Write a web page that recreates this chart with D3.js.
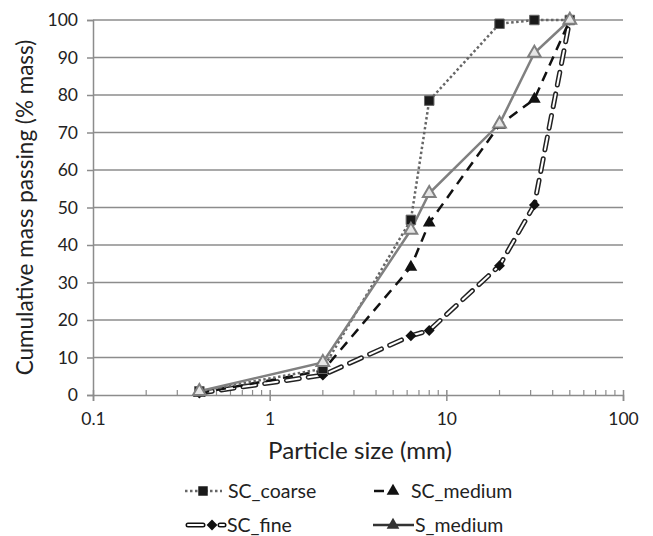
<!DOCTYPE html>
<html>
<head>
<meta charset="utf-8">
<script src="https://cdn.jsdelivr.net/npm/d3@7"></script>
<style>
  body { margin: 0; background: #fff; }
  svg text { font-family: Lato, "Open Sans", sans-serif; fill: #222; }
</style>
</head>
<body>
<div id="viz"></div>
<script>
// sieve sizes (mm)
const sizes = [0.4, 2, 6.3, 8, 20, 31.5, 50];
// cumulative % passing per sample
const scCoarse = [1, 7, 46.7, 78.5, 99, 100, 100];
const scMedium = [0.5, 6.5, 34.1, 45.9, 72, 78.9, 100];
const scFine = [0.5, 5.3, 15.8, 17.2, 34.5, 50.7, 100];
const sMedium = [1, 8.7, 44, 53.8, 72.3, 91.2, 100];

const xTicks = [0.1, 1, 10, 100];
const yTicks = [0, 10, 20, 30, 40, 50, 60, 70, 80, 90, 100];

const width = 653, height = 536;
const margin = {top: 20, right: 30, bottom: 141, left: 93};

const svg = d3.select("#viz").append("svg")
    .attr("width", width)
    .attr("height", height);

const x = d3.scaleLog()
    .domain([0.1, 100])
    .range([margin.left, width - margin.right]);
const y = d3.scaleLinear()
    .domain([0, 100])
    .range([height - margin.bottom, margin.top]);

// horizontal gridlines
svg.append("g")
    .selectAll("line")
    .data(yTicks.filter(d => d > 0))
    .join("line")
        .attr("x1", margin.left)
        .attr("x2", width - margin.right)
        .attr("y1", d => y(d))
        .attr("y2", d => y(d))
        .attr("stroke", "#8c8c8c")
        .attr("stroke-width", 1.5);

// y axis
const yAxis = svg.append("g")
    .attr("transform", `translate(${margin.left},0)`)
    .call(d3.axisLeft(y).tickValues(yTicks).tickSize(6).tickPadding(9));
yAxis.select(".domain").attr("stroke", "#8c8c8c").attr("stroke-width", 1.5);
yAxis.selectAll(".tick line").attr("stroke", "#8c8c8c").attr("stroke-width", 1.5);
yAxis.selectAll(".tick text").attr("font-size", 17.5).attr("font-family", "Lato, sans-serif").attr("fill", "#222");

// x axis, major ticks
const xAxis = svg.append("g")
    .attr("transform", `translate(0,${y(0)})`)
    .call(d3.axisBottom(x).tickValues(xTicks).tickFormat(d3.format("~g")).tickSize(6).tickPadding(12));
xAxis.select(".domain").attr("stroke", "#8c8c8c").attr("stroke-width", 1.5);
xAxis.selectAll(".tick line").attr("stroke", "#8c8c8c").attr("stroke-width", 1.5).attr("y1", -5);
xAxis.selectAll(".tick text").attr("font-size", 17.5).attr("font-family", "Lato, sans-serif").attr("fill", "#222");

// x axis, minor ticks
const minor = x.ticks().filter(d => !xTicks.includes(d));
svg.append("g")
    .selectAll("line")
    .data(minor)
    .join("line")
        .attr("x1", d => x(d))
        .attr("x2", d => x(d))
        .attr("y1", y(0) - 5)
        .attr("y2", y(0))
        .attr("stroke", "#8c8c8c")
        .attr("stroke-width", 1.2);

const line = d3.line()
    .x(d => x(d[0]))
    .y(d => y(d[1]));
const pts = vals => sizes.map((s, i) => [s, vals[i]]);

const tri = d3.symbol().type(d3.symbolTriangle).size(70);
const sq = d3.symbol().type(d3.symbolSquare).size(90);
const dia = d3.symbol().type(d3.symbolDiamond2).size(75);

// SC_fine: hollow double-line dashes
svg.append("path").datum(pts(scFine))
    .attr("d", line).attr("fill", "none")
    .attr("stroke", "#222").attr("stroke-width", 5)
    .attr("stroke-dasharray", "13,9").attr("stroke-linecap", "round");
svg.append("path").datum(pts(scFine))
    .attr("d", line).attr("fill", "none")
    .attr("stroke", "#fff").attr("stroke-width", 2)
    .attr("stroke-dasharray", "13,9").attr("stroke-linecap", "round");

// SC_medium: black dashes
svg.append("path").datum(pts(scMedium))
    .attr("d", line).attr("fill", "none")
    .attr("stroke", "#111").attr("stroke-width", 2.5)
    .attr("stroke-dasharray", "10,7");

// SC_coarse: dotted
svg.append("path").datum(pts(scCoarse))
    .attr("d", line).attr("fill", "none")
    .attr("stroke", "#666").attr("stroke-width", 2.5)
    .attr("stroke-dasharray", "2.5,2.5");

// S_medium: solid grey
svg.append("path").datum(pts(sMedium))
    .attr("d", line).attr("fill", "none")
    .attr("stroke", "#808080").attr("stroke-width", 2.5);

// markers
svg.append("g").selectAll("path").data(pts(scFine)).join("path")
    .attr("transform", d => `translate(${x(d[0])},${y(d[1])})`)
    .attr("d", dia).attr("fill", "#111");
svg.append("g").selectAll("path").data(pts(scMedium)).join("path")
    .attr("transform", d => `translate(${x(d[0])},${y(d[1])})`)
    .attr("d", tri).attr("fill", "#111");
svg.append("g").selectAll("path").data(pts(scCoarse)).join("path")
    .attr("transform", d => `translate(${x(d[0])},${y(d[1])})`)
    .attr("d", sq).attr("fill", "#1a1a1a").attr("stroke", "#666").attr("stroke-width", 1);
svg.append("g").selectAll("path").data(pts(sMedium)).join("path")
    .attr("transform", d => `translate(${x(d[0])},${y(d[1])})`)
    .attr("d", tri).attr("fill", "#e6e6e6").attr("stroke", "#808080").attr("stroke-width", 2);

// axis titles
svg.append("text")
    .attr("x", 268)
    .attr("y", 459)
    .attr("font-size", 23)
    .attr("textLength", 184)
    .attr("lengthAdjust", "spacingAndGlyphs")
    .text("Particle size (mm)");
svg.append("text")
    .attr("transform", `translate(33,${(y(0) + y(100)) / 2}) rotate(-90)`)
    .attr("text-anchor", "middle")
    .attr("font-size", 22.5)
    .text("Cumulative mass passing (% mass)");

// legend
const lg = svg.append("g").attr("font-size", 19.5);
// SC_coarse
lg.append("line").attr("x1", 185).attr("x2", 222).attr("y1", 491).attr("y2", 491)
    .attr("stroke", "#666").attr("stroke-width", 2.5).attr("stroke-dasharray", "2.5,2.5");
lg.append("path").attr("transform", "translate(203,491)").attr("d", sq).attr("fill", "#1a1a1a");
lg.append("text").attr("x", 228).attr("y", 498).text("SC_coarse");
// SC_medium
lg.append("line").attr("x1", 374).attr("x2", 384).attr("y1", 491).attr("y2", 491)
    .attr("stroke", "#111").attr("stroke-width", 2.5);
lg.append("path").attr("transform", "translate(393,491)").attr("d", tri).attr("fill", "#111");
lg.append("text").attr("x", 411).attr("y", 498).text("SC_medium");
// SC_fine
lg.append("line").attr("x1", 188).attr("x2", 203).attr("y1", 525).attr("y2", 525)
    .attr("stroke", "#111").attr("stroke-width", 5).attr("stroke-linecap", "round");
lg.append("line").attr("x1", 188).attr("x2", 203).attr("y1", 525).attr("y2", 525)
    .attr("stroke", "#fff").attr("stroke-width", 2).attr("stroke-linecap", "round");
lg.append("path").attr("transform", "translate(212,525)").attr("d", dia).attr("fill", "#111");
lg.append("line").attr("x1", 220).attr("x2", 224).attr("y1", 525).attr("y2", 525)
    .attr("stroke", "#111").attr("stroke-width", 5).attr("stroke-linecap", "round");
lg.append("line").attr("x1", 220).attr("x2", 224).attr("y1", 525).attr("y2", 525)
    .attr("stroke", "#fff").attr("stroke-width", 2).attr("stroke-linecap", "round");
lg.append("text").attr("x", 227).attr("y", 532).text("SC_fine");
// S_medium
lg.append("line").attr("x1", 373).attr("x2", 414).attr("y1", 525).attr("y2", 525)
    .attr("stroke", "#333").attr("stroke-width", 2.5);
lg.append("path").attr("transform", "translate(393,525)").attr("d", tri).attr("fill", "#333");
lg.append("text").attr("x", 415).attr("y", 532).text("S_medium");
</script>
</body>
</html>
